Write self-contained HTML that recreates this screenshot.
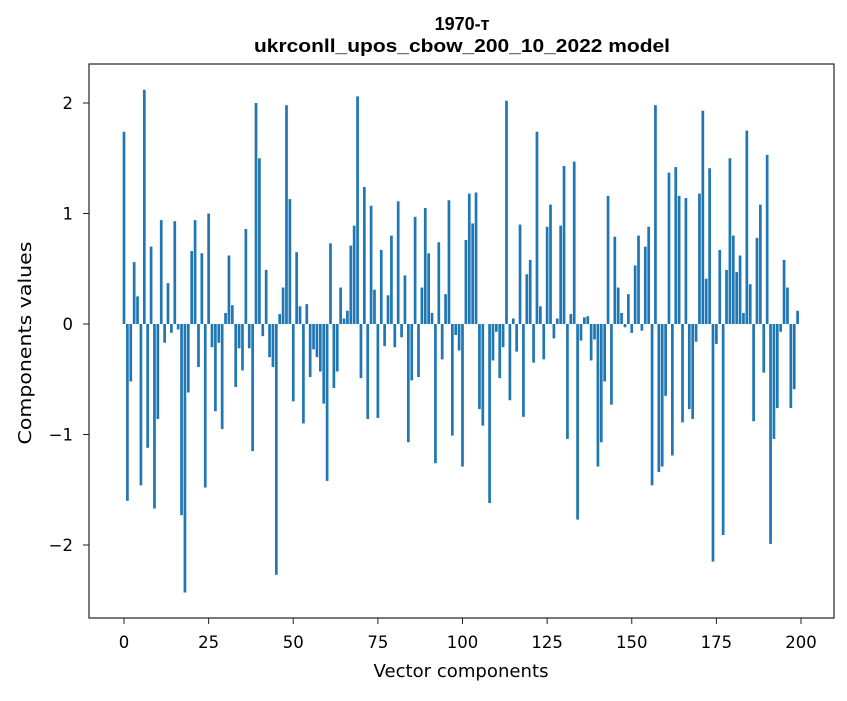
<!DOCTYPE html>
<html><head><meta charset="utf-8"><style>
body{margin:0;background:#fff;}
svg text{font-family:"DejaVu Sans","Liberation Sans",sans-serif;}
</style></head><body>
<svg id="chart" width="847" height="696" xmlns="http://www.w3.org/2000/svg">
<rect width="847" height="696" fill="#fff"/>
<text x="462" y="30" text-anchor="middle" font-size="18" font-weight="bold" style="font-family:'Liberation Sans',sans-serif">1970-т</text>
<text x="462" y="52" text-anchor="middle" font-size="18" font-weight="bold" textLength="416" lengthAdjust="spacingAndGlyphs" style="font-family:'Liberation Sans',sans-serif">ukrconll_upos_cbow_200_10_2022 model</text>
<g id="bars"></g>
<g id="xticks"></g>
<g id="yticks"></g>
<rect x="89" y="64" width="745" height="554" fill="none" stroke="#222" stroke-width="1.2"/>
<text x="461" y="677" text-anchor="middle" font-size="18" textLength="175" lengthAdjust="spacingAndGlyphs">Vector components</text>
<text transform="translate(31,343) rotate(-90)" text-anchor="middle" font-size="18" textLength="203" lengthAdjust="spacingAndGlyphs">Components values</text>
</svg>
<script>
const values1 = [1.74,-1.60,-0.52,0.56,0.25,-1.46,2.12,-1.12,0.70,-1.67,-0.86,0.94,-0.17,0.37,-0.08,0.93,-0.05,-1.73,-2.43,-0.62,0.66,0.94,-0.39,0.64,-1.48,1.00,-0.21,-0.79,-0.17,-0.95,0.10,0.62,0.17,-0.57,-0.22,-0.42,0.86,-0.22,-1.15,2.00,1.50,-0.11,0.49,-0.30,-0.39,-2.27,0.09,0.33,1.98,1.13];
const values2 = [-0.70,0.65,0.16,-0.90,0.18,-0.48,-0.23,-0.30,-0.43,-0.72,-1.42,0.73,-0.58,-0.43,0.33,0.05,0.12,0.71,0.89,2.06,-0.49,1.24,-0.86,1.07,0.31,-0.85,0.67,-0.20,0.26,0.80,-0.21,1.11,-0.12,0.44,-1.07,-0.51,0.97,-0.48,0.33,1.05,0.64,0.10,-1.26,0.74,-0.32,0.27,1.12,-1.01,-0.10,-0.24];
const values3 = [-1.29,0.76,1.18,0.91,1.19,-0.77,-0.92,0.0,-1.62,-0.33,-0.07,-0.49,-0.21,2.02,-0.69,0.05,-0.25,0.90,-0.84,0.45,0.58,-0.35,1.74,0.16,-0.32,0.88,1.08,-0.13,0.05,0.89,1.43,-1.04,0.09,1.47,-1.77,-0.15,0.06,0.07,-0.33,-0.14,-1.29,-1.07,-0.52,1.16,-0.73,0.79,0.33,0.10,-0.03,0.27];
const values4 = [-0.08,0.53,0.80,-0.06,0.70,0.88,-1.46,1.98,-1.34,-1.29,-0.65,1.37,-1.19,1.42,1.16,-0.89,1.14,-0.77,-0.86,-0.16,1.18,1.93,0.41,1.41,-2.15,-0.18,0.67,-1.91,0.49,1.50,0.80,0.47,0.62,0.10,1.75,0.36,-0.88,0.78,1.08,-0.44,1.53,-1.99,-1.04,-0.76,-0.07,0.58,0.33,-0.76,-0.59,0.12];
const values = values1.concat(values2, values3, values4);
const xTicks = [0,25,50,75,100,125,150,175,200];
const yTicks = [-2,-1,0,1,2];

const NS = "http://www.w3.org/2000/svg";
function xs(v){ return 124 + v*(801-124)/200; }
function ys(v){ return 324 - v*110.5; }
const barW = 0.8*(801-124)/200;
const gb = document.getElementById('bars');
values.forEach((v,i)=>{
  const r = document.createElementNS(NS,'rect');
  
  
  const y0 = ys(0), y1 = ys(v);
  r.setAttribute('x', xs(i)-barW/2);
  r.setAttribute('y', Math.min(y0,y1));
  r.setAttribute('width', barW);
  r.setAttribute('height', Math.abs(y1-y0));
  r.setAttribute('fill', '#1f77b4');
  gb.appendChild(r);
});
const gx = document.getElementById('xticks');
xTicks.forEach(t=>{
  const l = document.createElementNS(NS,'line');
  
  
  l.setAttribute('x1', xs(t)); l.setAttribute('x2', xs(t));
  l.setAttribute('y1', 618); l.setAttribute('y2', 624);
  l.setAttribute('stroke', '#222');
  gx.appendChild(l);
  const tx = document.createElementNS(NS,'text');
  
  
  tx.setAttribute('x', xs(t)); tx.setAttribute('y', 648);
  tx.setAttribute('text-anchor', 'middle');
  tx.setAttribute('font-size', '16.5');
  tx.textContent = t;
  gx.appendChild(tx);
});
const gy = document.getElementById('yticks');
yTicks.forEach(t=>{
  const l = document.createElementNS(NS,'line');
  
  
  l.setAttribute('x1', 83); l.setAttribute('x2', 89);
  l.setAttribute('y1', ys(t)); l.setAttribute('y2', ys(t));
  l.setAttribute('stroke', '#222');
  gy.appendChild(l);
  const tx = document.createElementNS(NS,'text');
  
  
  tx.setAttribute('x', 73); tx.setAttribute('y', ys(t)+6);
  tx.setAttribute('text-anchor', 'end');
  tx.setAttribute('font-size', '16.5');
  tx.textContent = t < 0 ? '\u2212' + Math.abs(t) : String(t);
  gy.appendChild(tx);
});
</script>
</body></html>
